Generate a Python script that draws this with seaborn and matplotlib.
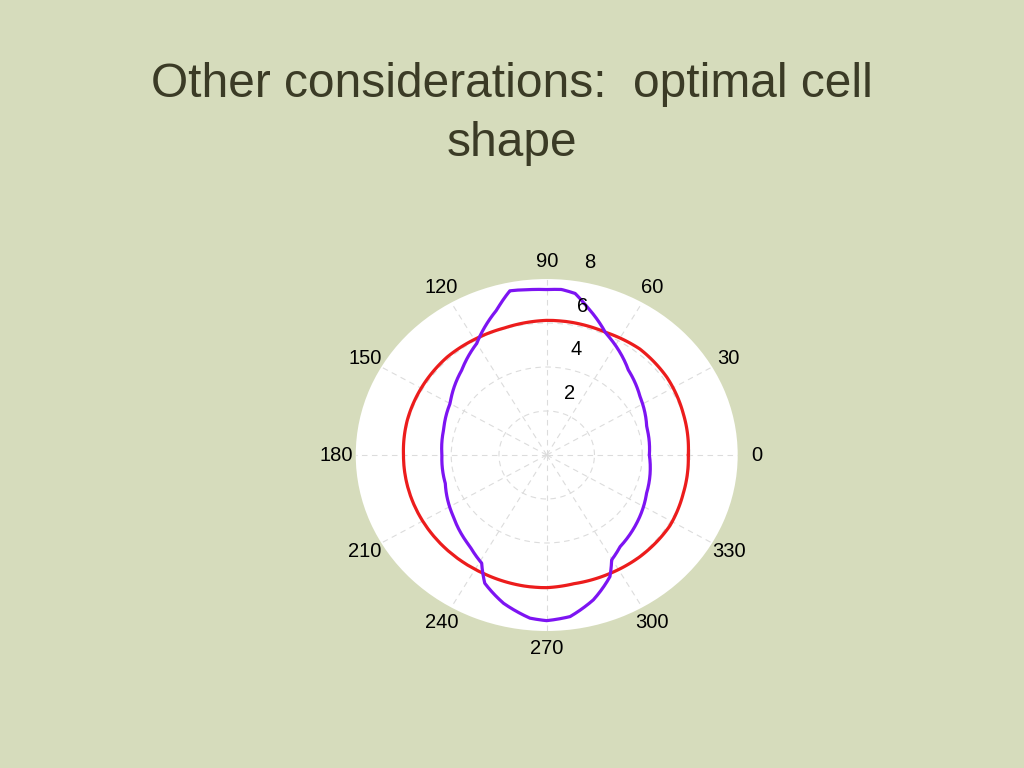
import numpy as np
import pandas as pd
import matplotlib
matplotlib.use("Agg")
import matplotlib.pyplot as plt
import seaborn as sns
from matplotlib.transforms import offset_copy

# ---------------- data ----------------
title_text = "Other considerations:  optimal cell\nshape"

red_deg = [0, 18, 35, 51, 66, 80, 90, 107, 119, 133, 151, 165, 180,
           192, 208, 224, 244, 261, 270, 281, 296, 310, 328, 343, 360]
red_r = [5.93, 6.02, 6.15, 6.2, 6.1, 6.12, 6.12, 6.04, 6.06, 6.1, 6.07, 6.05, 6.0,
         6.0, 6.0, 6.0, 6.0, 6.03, 6.03, 5.96, 6.0, 6.05, 6.08, 5.98, 5.93]

purple_deg = [0, 17, 34, 48.5, 66, 76, 80.8, 85.3, 90, 95, 101.7, 107.6, 120,
              132.7, 149.8, 165, 180, 196.9, 215.6, 232.4, 241, 246, 255,
              264.6, 270, 277.6, 286.5, 295.6, 299.7, 306.4, 320.5, 337.4, 360]
purple_r = [4.30, 4.38, 4.72, 5.16, 6.07, 6.95, 7.44, 7.55, 7.52, 7.55, 7.62, 6.92, 5.86,
            5.25, 4.68, 4.47, 4.39, 4.44, 4.81, 5.26, 5.62, 6.38, 6.98,
            7.45, 7.53, 7.41, 6.87, 6.13, 5.49, 5.18, 4.88, 4.53, 4.30]

angle_ticks = list(range(0, 360, 30))
angle_labels = [str(a) for a in angle_ticks]
radial_ticks = [2, 4, 6, 8]
radial_labels = ["2", "4", "6", "8"]

# ---------------- style ----------------
BG = "#d6dcbc"
TITLE_COLOR = "#3b3b26"
RED = "#ec1c1c"
PURPLE = "#7d14f2"
GRID = "#dcdcdc"

sns.set_style("white")
plt.rcParams["font.family"] = ["Liberation Sans", "DejaVu Sans"]

fig = plt.figure(figsize=(10.24, 7.68), dpi=100, facecolor=BG)

fig.text(0.5, 1 - 114 / 768, title_text, ha="center", va="center",
         fontsize=34.5, color=TITLE_COLOR, linespacing=1.38)

ax = fig.add_axes([0.3474, 0.1784, 0.373, 0.4583], projection="polar")
ax.set_aspect("auto")
ax.set_facecolor("white")
ax.spines["polar"].set_visible(False)

df_red = pd.DataFrame({"theta": np.deg2rad(red_deg), "r": red_r})
df_purple = pd.DataFrame({"theta": np.deg2rad(purple_deg), "r": purple_r})

sns.lineplot(data=df_red, x="theta", y="r", sort=False, color=RED,
             linewidth=2.3, ax=ax)
sns.lineplot(data=df_purple, x="theta", y="r", sort=False, color=PURPLE,
             linewidth=2.3, ax=ax)

# let the polar transform draw segments as arcs in (theta, r)
for line in ax.lines:
    line._path._interpolation_steps = 40

ax.set_ylim(0, radial_ticks[-1])
ax.set_thetagrids(angle_ticks, labels=[""] * len(angle_ticks))
ax.set_rgrids(radial_ticks[:-1], labels=[""] * (len(radial_ticks) - 1))
ax.grid(True, color=GRID, linestyle=(0, (5, 4)), linewidth=0.8)
ax.set_xlabel("")
ax.set_ylabel("")

rmax = radial_ticks[-1]
for a, lab in zip(angle_ticks, angle_labels):
    ax.text(np.deg2rad(a), rmax * 1.1, lab, ha="center", va="center",
            fontsize=14.5, color="black", clip_on=False)

trans = offset_copy(ax.transData, fig=fig, x=13.5, y=0, units="dots")
for rv, lab in zip(radial_ticks, radial_labels):
    ax.text(np.deg2rad(82), rv + 0.83, lab, transform=trans, ha="center",
            va="center", fontsize=14.5, color="black", clip_on=False)

fig.savefig("out.png", dpi=100, facecolor=BG)
